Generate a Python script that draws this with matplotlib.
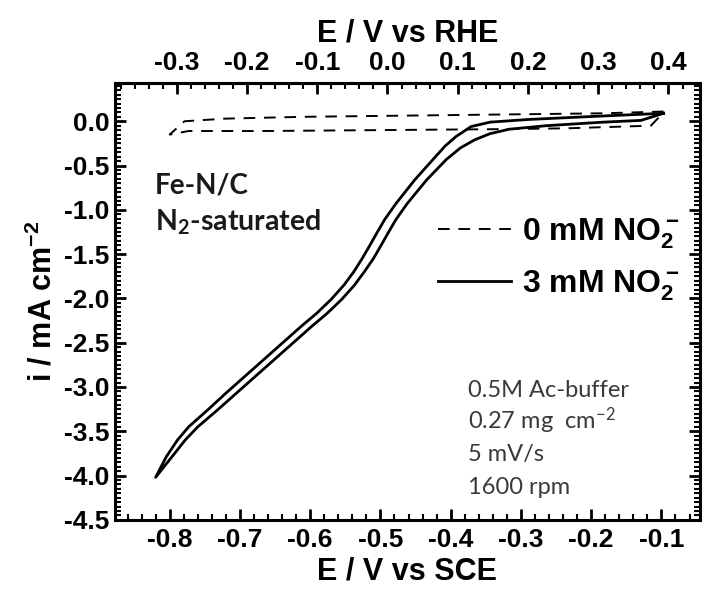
import numpy as np
import matplotlib
matplotlib.use('Agg')
import matplotlib.pyplot as plt
from matplotlib.ticker import MultipleLocator, FixedLocator, FuncFormatter

plt.rcParams['font.family'] = ['Liberation Sans', 'DejaVu Sans']
plt.rcParams['mathtext.default'] = 'regular'

# 3 mM nitrite, cathodic branch (right -> left) then return branch (left -> right)
sce_3mM = [-0.097, -0.183, -0.290, -0.344, -0.371, -0.392, -0.408, -0.425, -0.451, -0.478,
           -0.494, -0.505, -0.515, -0.526, -0.538, -0.552, -0.570, -0.591, -0.612, -0.639,
           -0.666, -0.693, -0.720, -0.746, -0.773, -0.789, -0.805, -0.820,
           -0.797, -0.778, -0.760, -0.732, -0.705, -0.678, -0.651, -0.624, -0.597, -0.576,
           -0.555, -0.537, -0.523, -0.510, -0.499, -0.489, -0.478, -0.462, -0.434, -0.406,
           -0.386, -0.366, -0.344, -0.317, -0.264, -0.183, -0.129, -0.097]
i_3mM = [0.09, 0.06, 0.02, -0.01, -0.06, -0.17, -0.28, -0.43, -0.66, -0.93,
         -1.11, -1.26, -1.40, -1.55, -1.70, -1.85, -2.01, -2.17, -2.31, -2.50,
         -2.69, -2.88, -3.07, -3.26, -3.45, -3.60, -3.79, -4.02,
         -3.79, -3.60, -3.45, -3.26, -3.07, -2.88, -2.69, -2.50, -2.31, -2.17,
         -2.01, -1.85, -1.70, -1.55, -1.40, -1.26, -1.11, -0.93, -0.66, -0.43,
         -0.30, -0.21, -0.14, -0.09, -0.05, -0.01, 0.01, 0.09]

# 0 mM nitrite (blank)
sce_0mM = [-0.097, -0.183, -0.290, -0.398, -0.505, -0.612, -0.720, -0.779,
           -0.800, -0.773, -0.666, -0.505, -0.344, -0.237, -0.156, -0.115, -0.097]
i_0mM = [0.11, 0.09, 0.08, 0.07, 0.06, 0.05, 0.03, 0.00,
         -0.15, -0.11, -0.11, -0.10, -0.09, -0.08, -0.06, -0.05, 0.10]

labels = ['0 mM NO$_2^-$', '3 mM NO$_2^-$']
conditions = ['0.5M Ac-buffer', '0.27 mg  cm$^{-2}$', '5 mV/s', '1600 rpm']
rhe_ticks = [-0.3, -0.2, -0.1, 0.0, 0.1, 0.2, 0.3, 0.4]
rhe_offset = 0.49

fig = plt.figure(figsize=(7.05, 5.90), dpi=100)
ax = fig.add_axes([0.163, 0.119, 0.830, 0.740])

l0, = ax.plot(sce_0mM, i_0mM, color='black', lw=1.4, ls=(0, (6, 4.5)))
l3, = ax.plot(sce_3mM, i_3mM, color='black', lw=2.0)

ax.set_xlim(-0.878, -0.045)
ax.set_ylim(-4.5, 0.43)

fmt = FuncFormatter(lambda v, p: '%.1f' % (round(v, 1) + 0.0))
ax.xaxis.set_major_locator(MultipleLocator(0.1))
ax.xaxis.set_minor_locator(MultipleLocator(0.02))
ax.yaxis.set_major_locator(MultipleLocator(0.5))
ax.yaxis.set_minor_locator(MultipleLocator(0.05))
ax.xaxis.set_major_formatter(fmt)
ax.yaxis.set_major_formatter(fmt)
ax.tick_params(which='both', direction='in', top=False, right=True, labelsize=19)
ax.tick_params(which='major', length=8, width=2)
ax.tick_params(which='minor', length=4, width=1.5)
ax.tick_params(axis='x', pad=6)
ax.tick_params(axis='y', pad=4)
for t in ax.get_xticklabels() + ax.get_yticklabels():
    t.set_fontweight('bold')
for s in ax.spines.values():
    s.set_linewidth(2.2)

top = ax.secondary_xaxis('top', functions=(lambda x: x + rhe_offset, lambda x: x - rhe_offset))
top.xaxis.set_major_locator(FixedLocator(rhe_ticks))
top.xaxis.set_minor_locator(FixedLocator(np.arange(-0.38, 0.44, 0.02)))
top.xaxis.set_major_formatter(fmt)
top.tick_params(which='both', direction='in', labelsize=19)
top.tick_params(which='major', length=8, width=2, pad=6)
top.tick_params(which='minor', length=4, width=1.5)
for t in top.get_xticklabels():
    t.set_fontweight('bold')
top.spines['top'].set_linewidth(2.2)
top.set_xlabel('E / V vs RHE', fontsize=22, fontweight='bold', labelpad=7)

ax.set_xlabel('E / V vs SCE', fontsize=22, fontweight='bold', labelpad=3)
ax.set_ylabel('i / mA cm$^{-2}$', fontsize=22, fontweight='bold', labelpad=4)

ax.legend([l0, l3], labels, loc='upper left', bbox_to_anchor=(0.552, 0.695),
          frameon=False, borderpad=0, borderaxespad=0, handlelength=2.3,
          handletextpad=0.34, labelspacing=0.55,
          prop={'family': 'Liberation Sans', 'weight': 'bold', 'size': 23})

ax.text(-0.821, -0.81, 'Fe-N/C', family='Lato', fontweight='bold', fontsize=20,
        color='#1a1a1a', va='baseline')
ax.text(-0.821, -1.23, 'N$_2$-saturated', family='Lato', fontweight='bold', fontsize=20.5,
        color='#1a1a1a', va='baseline')

for k, s in enumerate(conditions):
    ax.text(-0.376, -3.11 - 0.365 * k, s, family='Lato', fontsize=17,
            color='#3a3a3a', va='baseline')

fig.savefig('out.png', dpi=100)
